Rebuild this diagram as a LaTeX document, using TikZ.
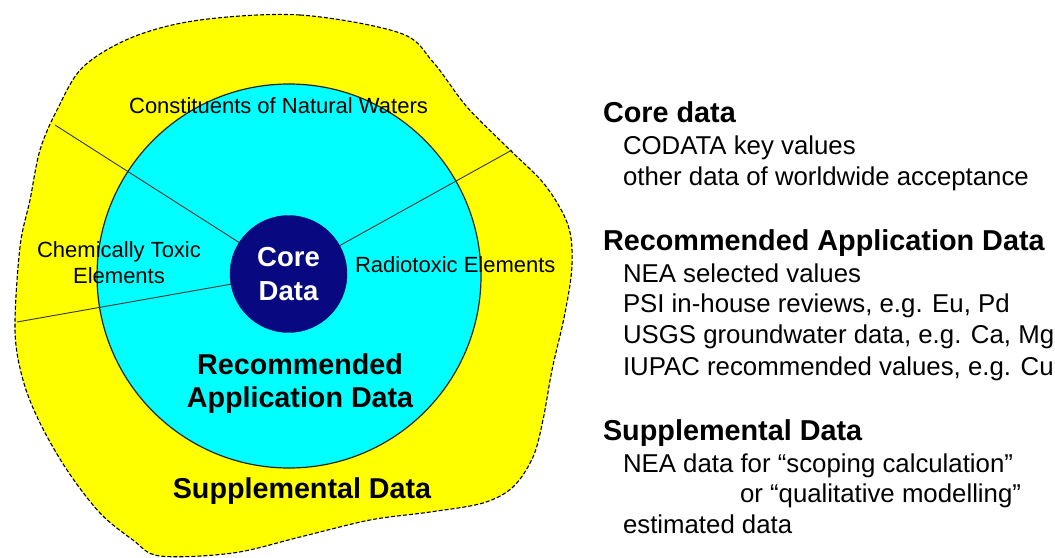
\documentclass[tikz,border=0pt]{standalone}
\usepackage{fontspec}
\setmainfont{Liberation Sans}
\definecolor{suppyellow}{RGB}{255,255,0}
\definecolor{reccyan}{RGB}{0,255,255}
\definecolor{corenavy}{RGB}{8,8,128}

\begin{document}
\begin{tikzpicture}[x=1pt,y=-1pt,
    every node/.style={inner sep=0pt,outer sep=0pt},
    blob/.style={fill=suppyellow,draw=black,line width=1.1pt,dash pattern=on 4pt off 2pt},
    ring/.style={circle,fill=reccyan,draw=black!85,line width=1.2pt},
    kernel/.style={circle,fill=corenavy,draw=corenavy,text=white,align=center,
      font=\bfseries\fontsize{27.5}{34}\selectfont},
    divider/.style={draw=black!80,line width=0.9pt},
    field/.style={anchor=base,font=\fontsize{22}{26}\selectfont},
    zone/.style={anchor=base,font=\bfseries\fontsize{28.7}{33}\selectfont},
    head/.style={anchor=base west,font=\bfseries\fontsize{28.8}{34}\selectfont},
    item/.style={anchor=base west,font=\fontsize{25.8}{31}\selectfont}
]
\useasboundingbox (0,0) rectangle (1055,557);

% supplemental data region
\draw[blob] plot[smooth cycle,tension=0.55] coordinates {
  (200,20) (300,15) (400,33) (433,62) (467,107) (510,150) (545,185)
  (568,225) (572,265) (565,313) (552,370) (543,420) (533,457) (513,487)
  (483,503) (430,512) (370,520) (300,537) (233,553) (160,556) (133,540)
  (100,513) (67,470) (40,423) (23,380) (15,330) (20,247) (30,200)
  (40,150) (57,110) (83,67) (133,37)};

\node[ring,minimum size=384pt] (rec) at (289,276) {};
\node[kernel,minimum size=117pt] (core) at (288.5,274) {Core\\Data};

\coordinate (w1) at (55,125);
\coordinate (w2) at (512,150);
\coordinate (w3) at (17,322);

\draw[divider] (w1) -- (core);
\draw[divider] (w2) -- (core);
\draw[divider] (w3) -- (core);

\node[field] (natw) at (278.5,113) {Constituents of Natural Waters};
\node[field] (chem1) at (119,257) {Chemically Toxic};
\node[field] (chem2) at (119,283) {Elements};
\node[field,anchor=base west] (radio) at (355,272) {Radiotoxic Elements};

\node[zone] (rec1) at (300,374) {Recommended};
\node[zone] (rec2) at (300,407) {Application Data};
\node[zone] (supp) at (302,498) {Supplemental Data};

% legend
\node[head] (hCore) at (603,122) {Core data};
\node[item] (cCodata) at (623,154) {CODATA key values};
\node[item] (cOther) at (623,185) {other data of worldwide acceptance};

\node[head] (hRec) at (603,250) {Recommended Application Data};
\node[item] (rNea) at (623,282) {NEA selected values};
\node[item] (rPsi) at (623,312) {PSI in-house reviews, e.g. Eu, Pd};
\node[item] (rUsgs) at (623,343) {USGS groundwater data, e.g. Ca, Mg};
\node[item] (rIupac) at (623,375) {IUPAC recommended values, e.g. Cu};

\node[head] (hSup) at (603,440) {Supplemental Data};
\node[item] (sNea) at (623,472) {NEA data for “scoping calculation”};
\node[item] (sOr) at (740,502) {or “qualitative modelling”};
\node[item] (sEst) at (623,533) {estimated data};

\end{tikzpicture}
\end{document}
